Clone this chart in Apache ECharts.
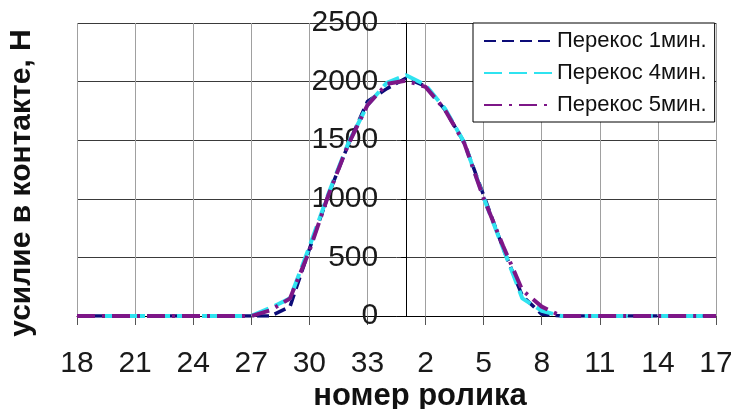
<!DOCTYPE html>
<html><head><meta charset="utf-8">
<script src="https://cdn.jsdelivr.net/npm/echarts@6/dist/echarts.min.js"></script>
<style>html,body{margin:0;padding:0;background:#fff}#c{width:731px;height:409px}</style>
</head><body><div id="c"></div><script>
// roller numbers: 18..34 then 1..17
const categories = ['18','19','20','21','22','23','24','25','26','27','28','29','30','31','32','33','34',
  '1','2','3','4','5','6','7','8','9','10','11','12','13','14','15','16','17'];
const yMin = 0, yMax = 2500, yStep = 500;
const seriesNames = ['Перекос 1мин.', 'Перекос 4мин.', 'Перекос 5мин.'];
const skew1 = [0,0,0,0,0,0,0,0,0,0, 0,80,570,1040,1460,1830,1940,2030,1960,1760,1480,1030,580,170,15, 0,0,0,0,0,0,0,0,0];
const skew4 = [0,0,0,0,0,0,0,0,0,0, 70,150,590,1050,1470,1800,1990,2055,1970,1770,1480,1010,580,150,45, 0,0,0,0,0,0,0,0,0];
const skew5 = [0,0,0,0,0,0,0,0,0,0, 50,150,555,1040,1460,1800,1980,2008,1955,1760,1475,1005,600,220,80, 0,0,0,0,0,0,0,0,0];
const crossCategory = '1';
const xTitle = 'номер ролика';
const yTitle = 'усилие в контакте, Н';

const FONT = "'Liberation Sans', Arial, sans-serif";
const chart = echarts.init(document.getElementById('c'), null, {renderer: 'canvas'});
const gridLeft = 77;
const option = {
  backgroundColor: '#ffffff',
  animation: false,
  textStyle: {fontFamily: FONT},
  grid: {left: gridLeft, right: 15, top: 23, bottom: 93, containLabel: false, outerBoundsMode: 'none'},
  legend: {
    orient: 'vertical', left: 473, top: 23,
    padding: [7, 8, 6, 10],
    itemWidth: 68, itemHeight: 20, itemGap: 10,
    backgroundColor: '#ffffff', borderColor: '#000000', borderWidth: 1,
    itemStyle: {opacity: 0},
    textStyle: {fontFamily: FONT, fontSize: 22, color: '#111'},
    data: seriesNames
  },
  xAxis: {
    type: 'category', data: categories, boundaryGap: false,
    name: xTitle, nameLocation: 'middle', nameGap: 65, nameMoveOverlap: false,
    nameTextStyle: {fontFamily: FONT, fontSize: 31, fontWeight: 'bold', color: '#111', padding: [0, 0, 0, 47]},
    axisLine: {lineStyle: {color: '#000', width: 1}},
    axisTick: {show: true, interval: 2, length: 9, lineStyle: {color: '#555'}},
    axisLabel: {interval: 2, fontSize: 30, color: '#1a1a1a', margin: 33, fontFamily: FONT},
    splitLine: {show: true, interval: 2, lineStyle: {color: '#a0a0a0', width: 1}}
  },
  yAxis: {
    type: 'value', min: yMin, max: yMax, interval: yStep,
    name: yTitle, nameLocation: 'middle', nameGap: 40, nameRotate: 90, nameMoveOverlap: false,
    nameTextStyle: {fontFamily: FONT, fontSize: 30, fontWeight: 'bold', color: '#111', padding: [0, 27, 0, 0]},
    axisLine: {show: true, onZero: false, lineStyle: {color: '#000', width: 1}},
    axisTick: {show: true, length: 5, lineStyle: {color: '#000'}},
    axisLabel: {fontSize: 30, color: '#1a1a1a', margin: 28, fontFamily: FONT, formatter: v => String(v)},
    splitLine: {show: true, lineStyle: {color: '#3a3a3a', width: 1}}
  },
  series: [
    {name: seriesNames[0], type: 'line', data: skew1, symbol: 'none', z: 2,
     lineStyle: {color: '#0c0c78', width: 3.5, type: [12, 6], cap: 'butt'}, itemStyle: {color: '#0c0c78'}},
    {name: seriesNames[1], type: 'line', data: skew4, symbol: 'none', z: 3,
     lineStyle: {color: '#2fe3f0', width: 4, type: [18, 7], cap: 'butt'}, itemStyle: {color: '#2fe3f0'}},
    {name: seriesNames[2], type: 'line', data: skew5, symbol: 'none', z: 4,
     lineStyle: {color: '#7d1687', width: 4, type: [18, 7, 3, 7], cap: 'butt'}, itemStyle: {color: '#7d1687'}}
  ]
};
chart.setOption(option);
// place the vertical axis where it crosses at roller "1"
const crossX = chart.convertToPixel({xAxisIndex: 0}, categories.indexOf(crossCategory));
chart.setOption({yAxis: {offset: gridLeft - crossX, nameGap: crossX - 37}});
</script></body></html>
